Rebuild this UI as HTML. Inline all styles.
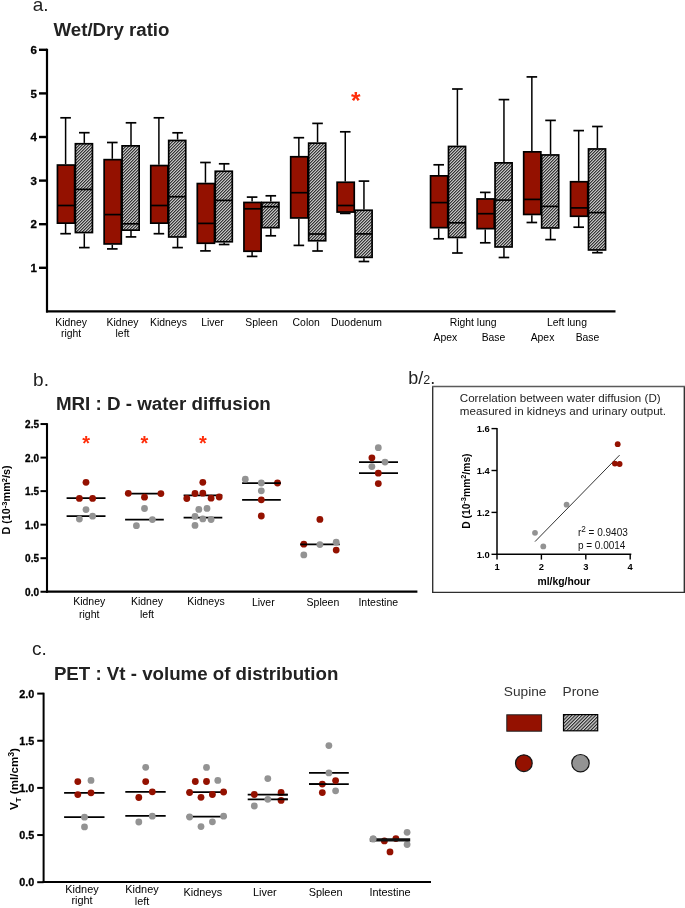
<!DOCTYPE html>
<html><head><meta charset="utf-8"><title>Figure</title>
<style>
html,body{margin:0;padding:0;background:#fff;}
body{width:685px;height:908px;overflow:hidden;}
svg{display:block;will-change:transform;font-family:"Liberation Sans", sans-serif;}
</style></head>
<body>
<svg width="685" height="908" viewBox="0 0 685 908">
<defs>
<pattern id="hatch" patternUnits="userSpaceOnUse" x="0" y="0" width="3" height="3"><rect x="0" y="0" width="1" height="1" fill="#c4c4c4"/><rect x="1" y="0" width="1" height="1" fill="#363636"/><rect x="2" y="0" width="1" height="1" fill="#808080"/><rect x="0" y="1" width="1" height="1" fill="#363636"/><rect x="1" y="1" width="1" height="1" fill="#808080"/><rect x="2" y="1" width="1" height="1" fill="#c4c4c4"/><rect x="0" y="2" width="1" height="1" fill="#808080"/><rect x="1" y="2" width="1" height="1" fill="#c4c4c4"/><rect x="2" y="2" width="1" height="1" fill="#363636"/></pattern>
<pattern id="hatch2" patternUnits="userSpaceOnUse" width="2.4" height="8" patternTransform="rotate(45)">
<rect x="0" y="0" width="2.4" height="8" fill="#d4d4d4"/>
<rect x="0" y="0" width="1.1" height="8" fill="#202020"/>
</pattern>
</defs>
<rect x="0" y="0" width="685" height="908" fill="#fff"/>
<text x="32.7" y="10.6" font-size="19" text-anchor="start" fill="#222" >a.</text>
<text x="53.5" y="35.8" font-size="18.7" font-weight="bold" text-anchor="start" fill="#222" >Wet/Dry ratio</text>
<line x1="47.0" y1="48.7" x2="47.0" y2="312.4" stroke="#000" stroke-width="2.2"/>
<line x1="46.0" y1="311.4" x2="615.5" y2="311.4" stroke="#000" stroke-width="2.2"/>
<line x1="39" y1="267.8" x2="47.0" y2="267.8" stroke="#000" stroke-width="2.4"/>
<text x="36.9" y="271.9" font-size="11.5" font-weight="bold" text-anchor="end" fill="#000" stroke="#000" stroke-width="0.3">1</text>
<line x1="39" y1="224.20000000000002" x2="47.0" y2="224.20000000000002" stroke="#000" stroke-width="2.4"/>
<text x="36.9" y="228.3" font-size="11.5" font-weight="bold" text-anchor="end" fill="#000" stroke="#000" stroke-width="0.3">2</text>
<line x1="39" y1="180.6" x2="47.0" y2="180.6" stroke="#000" stroke-width="2.4"/>
<text x="36.9" y="184.7" font-size="11.5" font-weight="bold" text-anchor="end" fill="#000" stroke="#000" stroke-width="0.3">3</text>
<line x1="39" y1="137.0" x2="47.0" y2="137.0" stroke="#000" stroke-width="2.4"/>
<text x="36.9" y="141.1" font-size="11.5" font-weight="bold" text-anchor="end" fill="#000" stroke="#000" stroke-width="0.3">4</text>
<line x1="39" y1="93.4" x2="47.0" y2="93.4" stroke="#000" stroke-width="2.4"/>
<text x="36.9" y="97.50000000000001" font-size="11.5" font-weight="bold" text-anchor="end" fill="#000" stroke="#000" stroke-width="0.3">5</text>
<line x1="39" y1="49.800000000000004" x2="47.0" y2="49.800000000000004" stroke="#000" stroke-width="2.4"/>
<text x="36.9" y="53.900000000000006" font-size="11.5" font-weight="bold" text-anchor="end" fill="#000" stroke="#000" stroke-width="0.3">6</text>
<line x1="65.6" y1="117.8" x2="65.6" y2="164.2" stroke="#000" stroke-width="1.5"/>
<line x1="65.6" y1="224.0" x2="65.6" y2="233.7" stroke="#000" stroke-width="1.5"/>
<line x1="60.3" y1="117.8" x2="70.89999999999999" y2="117.8" stroke="#000" stroke-width="1.7"/>
<line x1="60.3" y1="233.7" x2="70.89999999999999" y2="233.7" stroke="#000" stroke-width="1.7"/>
<rect x="57.45" y="165.05" width="17.15" height="58.10" fill="#941100" stroke="#000" stroke-width="1.7"/>
<line x1="57.45" y1="205.5" x2="74.60000000000001" y2="205.5" stroke="#000" stroke-width="1.7"/>
<line x1="84.3" y1="132.7" x2="84.3" y2="142.89999999999998" stroke="#000" stroke-width="1.5"/>
<line x1="84.3" y1="233.4" x2="84.3" y2="247.6" stroke="#000" stroke-width="1.5"/>
<line x1="79.0" y1="132.7" x2="89.6" y2="132.7" stroke="#000" stroke-width="1.7"/>
<line x1="79.0" y1="247.6" x2="89.6" y2="247.6" stroke="#000" stroke-width="1.7"/>
<rect x="75.40" y="143.75" width="17.05" height="88.80" fill="url(#hatch)" stroke="#000" stroke-width="1.7"/>
<line x1="75.39999999999999" y1="189.4" x2="92.45" y2="189.4" stroke="#000" stroke-width="1.7"/>
<line x1="112.3" y1="142.5" x2="112.3" y2="158.79999999999998" stroke="#000" stroke-width="1.5"/>
<line x1="112.3" y1="244.79999999999998" x2="112.3" y2="248.9" stroke="#000" stroke-width="1.5"/>
<line x1="107.0" y1="142.5" x2="117.6" y2="142.5" stroke="#000" stroke-width="1.7"/>
<line x1="107.0" y1="248.9" x2="117.6" y2="248.9" stroke="#000" stroke-width="1.7"/>
<rect x="104.15" y="159.65" width="17.15" height="84.30" fill="#941100" stroke="#000" stroke-width="1.7"/>
<line x1="104.15" y1="214.6" x2="121.30000000000001" y2="214.6" stroke="#000" stroke-width="1.7"/>
<line x1="131.0" y1="122.8" x2="131.0" y2="145.0" stroke="#000" stroke-width="1.5"/>
<line x1="131.0" y1="231.0" x2="131.0" y2="236.9" stroke="#000" stroke-width="1.5"/>
<line x1="125.7" y1="122.8" x2="136.3" y2="122.8" stroke="#000" stroke-width="1.7"/>
<line x1="125.7" y1="236.9" x2="136.3" y2="236.9" stroke="#000" stroke-width="1.7"/>
<rect x="122.10" y="145.85" width="17.05" height="84.30" fill="url(#hatch)" stroke="#000" stroke-width="1.7"/>
<line x1="122.1" y1="223.8" x2="139.15" y2="223.8" stroke="#000" stroke-width="1.7"/>
<line x1="158.9" y1="117.8" x2="158.9" y2="164.7" stroke="#000" stroke-width="1.5"/>
<line x1="158.9" y1="224.0" x2="158.9" y2="233.7" stroke="#000" stroke-width="1.5"/>
<line x1="153.6" y1="117.8" x2="164.20000000000002" y2="117.8" stroke="#000" stroke-width="1.7"/>
<line x1="153.6" y1="233.7" x2="164.20000000000002" y2="233.7" stroke="#000" stroke-width="1.7"/>
<rect x="150.75" y="165.55" width="17.15" height="57.60" fill="#941100" stroke="#000" stroke-width="1.7"/>
<line x1="150.75" y1="205.5" x2="167.9" y2="205.5" stroke="#000" stroke-width="1.7"/>
<line x1="177.60000000000002" y1="132.8" x2="177.60000000000002" y2="139.6" stroke="#000" stroke-width="1.5"/>
<line x1="177.60000000000002" y1="237.79999999999998" x2="177.60000000000002" y2="247.6" stroke="#000" stroke-width="1.5"/>
<line x1="172.3" y1="132.8" x2="182.90000000000003" y2="132.8" stroke="#000" stroke-width="1.7"/>
<line x1="172.3" y1="247.6" x2="182.90000000000003" y2="247.6" stroke="#000" stroke-width="1.7"/>
<rect x="168.70" y="140.45" width="17.05" height="96.50" fill="url(#hatch)" stroke="#000" stroke-width="1.7"/>
<line x1="168.70000000000002" y1="196.7" x2="185.75000000000003" y2="196.7" stroke="#000" stroke-width="1.7"/>
<line x1="205.45" y1="162.5" x2="205.45" y2="182.7" stroke="#000" stroke-width="1.5"/>
<line x1="205.45" y1="244.1" x2="205.45" y2="250.9" stroke="#000" stroke-width="1.5"/>
<line x1="200.14999999999998" y1="162.5" x2="210.75" y2="162.5" stroke="#000" stroke-width="1.7"/>
<line x1="200.14999999999998" y1="250.9" x2="210.75" y2="250.9" stroke="#000" stroke-width="1.7"/>
<rect x="197.30" y="183.55" width="17.15" height="59.70" fill="#941100" stroke="#000" stroke-width="1.7"/>
<line x1="197.29999999999998" y1="223.4" x2="214.45" y2="223.4" stroke="#000" stroke-width="1.7"/>
<line x1="224.15" y1="163.8" x2="224.15" y2="170.39999999999998" stroke="#000" stroke-width="1.5"/>
<line x1="224.15" y1="242.6" x2="224.15" y2="244.5" stroke="#000" stroke-width="1.5"/>
<line x1="218.85" y1="163.8" x2="229.45000000000002" y2="163.8" stroke="#000" stroke-width="1.7"/>
<line x1="218.85" y1="244.5" x2="229.45000000000002" y2="244.5" stroke="#000" stroke-width="1.7"/>
<rect x="215.25" y="171.25" width="17.05" height="70.50" fill="url(#hatch)" stroke="#000" stroke-width="1.7"/>
<line x1="215.25" y1="200.4" x2="232.3" y2="200.4" stroke="#000" stroke-width="1.7"/>
<line x1="252.1" y1="197.1" x2="252.1" y2="201.6" stroke="#000" stroke-width="1.5"/>
<line x1="252.1" y1="252.1" x2="252.1" y2="256.4" stroke="#000" stroke-width="1.5"/>
<line x1="246.79999999999998" y1="197.1" x2="257.4" y2="197.1" stroke="#000" stroke-width="1.7"/>
<line x1="246.79999999999998" y1="256.4" x2="257.4" y2="256.4" stroke="#000" stroke-width="1.7"/>
<rect x="243.95" y="202.45" width="17.15" height="48.80" fill="#941100" stroke="#000" stroke-width="1.7"/>
<line x1="243.95" y1="208.8" x2="261.09999999999997" y2="208.8" stroke="#000" stroke-width="1.7"/>
<line x1="270.8" y1="195.8" x2="270.8" y2="201.6" stroke="#000" stroke-width="1.5"/>
<line x1="270.8" y1="228.5" x2="270.8" y2="235.8" stroke="#000" stroke-width="1.5"/>
<line x1="265.5" y1="195.8" x2="276.1" y2="195.8" stroke="#000" stroke-width="1.7"/>
<line x1="265.5" y1="235.8" x2="276.1" y2="235.8" stroke="#000" stroke-width="1.7"/>
<rect x="261.90" y="202.45" width="17.05" height="25.20" fill="url(#hatch)" stroke="#000" stroke-width="1.7"/>
<line x1="261.90000000000003" y1="206.7" x2="278.95" y2="206.7" stroke="#000" stroke-width="1.7"/>
<line x1="298.85" y1="137.7" x2="298.85" y2="155.89999999999998" stroke="#000" stroke-width="1.5"/>
<line x1="298.85" y1="218.79999999999998" x2="298.85" y2="245.4" stroke="#000" stroke-width="1.5"/>
<line x1="293.55" y1="137.7" x2="304.15000000000003" y2="137.7" stroke="#000" stroke-width="1.7"/>
<line x1="293.55" y1="245.4" x2="304.15000000000003" y2="245.4" stroke="#000" stroke-width="1.7"/>
<rect x="290.70" y="156.75" width="17.15" height="61.20" fill="#941100" stroke="#000" stroke-width="1.7"/>
<line x1="290.70000000000005" y1="192.7" x2="307.84999999999997" y2="192.7" stroke="#000" stroke-width="1.7"/>
<line x1="317.55" y1="123.4" x2="317.55" y2="142.29999999999998" stroke="#000" stroke-width="1.5"/>
<line x1="317.55" y1="241.6" x2="317.55" y2="251.0" stroke="#000" stroke-width="1.5"/>
<line x1="312.25" y1="123.4" x2="322.85" y2="123.4" stroke="#000" stroke-width="1.7"/>
<line x1="312.25" y1="251.0" x2="322.85" y2="251.0" stroke="#000" stroke-width="1.7"/>
<rect x="308.65" y="143.15" width="17.05" height="97.60" fill="url(#hatch)" stroke="#000" stroke-width="1.7"/>
<line x1="308.65000000000003" y1="234.0" x2="325.7" y2="234.0" stroke="#000" stroke-width="1.7"/>
<line x1="345.25" y1="131.8" x2="345.25" y2="181.39999999999998" stroke="#000" stroke-width="1.5"/>
<line x1="345.25" y1="212.9" x2="345.25" y2="213.4" stroke="#000" stroke-width="1.5"/>
<line x1="339.95" y1="131.8" x2="350.55" y2="131.8" stroke="#000" stroke-width="1.7"/>
<line x1="339.95" y1="213.4" x2="350.55" y2="213.4" stroke="#000" stroke-width="1.7"/>
<rect x="337.10" y="182.25" width="17.15" height="29.80" fill="#941100" stroke="#000" stroke-width="1.7"/>
<line x1="337.1" y1="205.5" x2="354.24999999999994" y2="205.5" stroke="#000" stroke-width="1.7"/>
<line x1="363.95" y1="181.1" x2="363.95" y2="209.39999999999998" stroke="#000" stroke-width="1.5"/>
<line x1="363.95" y1="258.20000000000005" x2="363.95" y2="261.5" stroke="#000" stroke-width="1.5"/>
<line x1="358.65" y1="181.1" x2="369.25" y2="181.1" stroke="#000" stroke-width="1.7"/>
<line x1="358.65" y1="261.5" x2="369.25" y2="261.5" stroke="#000" stroke-width="1.7"/>
<rect x="355.05" y="210.25" width="17.05" height="47.10" fill="url(#hatch)" stroke="#000" stroke-width="1.7"/>
<line x1="355.05" y1="233.9" x2="372.09999999999997" y2="233.9" stroke="#000" stroke-width="1.7"/>
<line x1="438.70000000000005" y1="164.8" x2="438.70000000000005" y2="175.0" stroke="#000" stroke-width="1.5"/>
<line x1="438.70000000000005" y1="228.5" x2="438.70000000000005" y2="238.8" stroke="#000" stroke-width="1.5"/>
<line x1="433.40000000000003" y1="164.8" x2="444.00000000000006" y2="164.8" stroke="#000" stroke-width="1.7"/>
<line x1="433.40000000000003" y1="238.8" x2="444.00000000000006" y2="238.8" stroke="#000" stroke-width="1.7"/>
<rect x="430.55" y="175.85" width="17.15" height="51.80" fill="#941100" stroke="#000" stroke-width="1.7"/>
<line x1="430.55000000000007" y1="202.6" x2="447.7" y2="202.6" stroke="#000" stroke-width="1.7"/>
<line x1="457.40000000000003" y1="89.0" x2="457.40000000000003" y2="145.6" stroke="#000" stroke-width="1.5"/>
<line x1="457.40000000000003" y1="238.29999999999998" x2="457.40000000000003" y2="253.0" stroke="#000" stroke-width="1.5"/>
<line x1="452.1" y1="89.0" x2="462.70000000000005" y2="89.0" stroke="#000" stroke-width="1.7"/>
<line x1="452.1" y1="253.0" x2="462.70000000000005" y2="253.0" stroke="#000" stroke-width="1.7"/>
<rect x="448.50" y="146.45" width="17.05" height="91.00" fill="url(#hatch)" stroke="#000" stroke-width="1.7"/>
<line x1="448.50000000000006" y1="222.8" x2="465.55" y2="222.8" stroke="#000" stroke-width="1.7"/>
<line x1="485.25" y1="192.4" x2="485.25" y2="198.1" stroke="#000" stroke-width="1.5"/>
<line x1="485.25" y1="229.5" x2="485.25" y2="242.8" stroke="#000" stroke-width="1.5"/>
<line x1="479.95" y1="192.4" x2="490.55" y2="192.4" stroke="#000" stroke-width="1.7"/>
<line x1="479.95" y1="242.8" x2="490.55" y2="242.8" stroke="#000" stroke-width="1.7"/>
<rect x="477.10" y="198.95" width="17.15" height="29.70" fill="#941100" stroke="#000" stroke-width="1.7"/>
<line x1="477.1" y1="213.7" x2="494.24999999999994" y2="213.7" stroke="#000" stroke-width="1.7"/>
<line x1="503.95" y1="99.6" x2="503.95" y2="162.0" stroke="#000" stroke-width="1.5"/>
<line x1="503.95" y1="247.79999999999998" x2="503.95" y2="257.5" stroke="#000" stroke-width="1.5"/>
<line x1="498.65" y1="99.6" x2="509.25" y2="99.6" stroke="#000" stroke-width="1.7"/>
<line x1="498.65" y1="257.5" x2="509.25" y2="257.5" stroke="#000" stroke-width="1.7"/>
<rect x="495.05" y="162.85" width="17.05" height="84.10" fill="url(#hatch)" stroke="#000" stroke-width="1.7"/>
<line x1="495.05" y1="200.1" x2="512.0999999999999" y2="200.1" stroke="#000" stroke-width="1.7"/>
<line x1="531.85" y1="76.9" x2="531.85" y2="151.0" stroke="#000" stroke-width="1.5"/>
<line x1="531.85" y1="215.29999999999998" x2="531.85" y2="222.5" stroke="#000" stroke-width="1.5"/>
<line x1="526.5500000000001" y1="76.9" x2="537.15" y2="76.9" stroke="#000" stroke-width="1.7"/>
<line x1="526.5500000000001" y1="222.5" x2="537.15" y2="222.5" stroke="#000" stroke-width="1.7"/>
<rect x="523.70" y="151.85" width="17.15" height="62.60" fill="#941100" stroke="#000" stroke-width="1.7"/>
<line x1="523.7" y1="199.4" x2="540.85" y2="199.4" stroke="#000" stroke-width="1.7"/>
<line x1="550.55" y1="120.4" x2="550.55" y2="154.1" stroke="#000" stroke-width="1.5"/>
<line x1="550.55" y1="228.79999999999998" x2="550.55" y2="239.6" stroke="#000" stroke-width="1.5"/>
<line x1="545.25" y1="120.4" x2="555.8499999999999" y2="120.4" stroke="#000" stroke-width="1.7"/>
<line x1="545.25" y1="239.6" x2="555.8499999999999" y2="239.6" stroke="#000" stroke-width="1.7"/>
<rect x="541.65" y="154.95" width="17.05" height="73.00" fill="url(#hatch)" stroke="#000" stroke-width="1.7"/>
<line x1="541.65" y1="206.4" x2="558.6999999999999" y2="206.4" stroke="#000" stroke-width="1.7"/>
<line x1="578.7" y1="130.6" x2="578.7" y2="180.89999999999998" stroke="#000" stroke-width="1.5"/>
<line x1="578.7" y1="217.1" x2="578.7" y2="227.2" stroke="#000" stroke-width="1.5"/>
<line x1="573.4000000000001" y1="130.6" x2="584.0" y2="130.6" stroke="#000" stroke-width="1.7"/>
<line x1="573.4000000000001" y1="227.2" x2="584.0" y2="227.2" stroke="#000" stroke-width="1.7"/>
<rect x="570.55" y="181.75" width="17.15" height="34.50" fill="#941100" stroke="#000" stroke-width="1.7"/>
<line x1="570.5500000000001" y1="207.9" x2="587.7" y2="207.9" stroke="#000" stroke-width="1.7"/>
<line x1="597.4" y1="126.5" x2="597.4" y2="148.1" stroke="#000" stroke-width="1.5"/>
<line x1="597.4" y1="250.79999999999998" x2="597.4" y2="252.7" stroke="#000" stroke-width="1.5"/>
<line x1="592.1" y1="126.5" x2="602.6999999999999" y2="126.5" stroke="#000" stroke-width="1.7"/>
<line x1="592.1" y1="252.7" x2="602.6999999999999" y2="252.7" stroke="#000" stroke-width="1.7"/>
<rect x="588.50" y="148.95" width="17.05" height="101.00" fill="url(#hatch)" stroke="#000" stroke-width="1.7"/>
<line x1="588.5" y1="212.6" x2="605.55" y2="212.6" stroke="#000" stroke-width="1.7"/>
<text x="355.7" y="109" font-size="24.5" font-weight="bold" text-anchor="middle" fill="#ff2d0a" >*</text>
<text x="71.1" y="325.9" font-size="10.4" text-anchor="middle" fill="#000" >Kidney</text>
<text x="71.1" y="337.0" font-size="10.4" text-anchor="middle" fill="#000" >right</text>
<text x="122.5" y="325.9" font-size="10.4" text-anchor="middle" fill="#000" >Kidney</text>
<text x="122.5" y="337.0" font-size="10.4" text-anchor="middle" fill="#000" >left</text>
<text x="168.5" y="326.3" font-size="10.4" text-anchor="middle" fill="#000" >Kidneys</text>
<text x="212.5" y="326.3" font-size="10.4" text-anchor="middle" fill="#000" >Liver</text>
<text x="261.5" y="326.3" font-size="10.4" text-anchor="middle" fill="#000" >Spleen</text>
<text x="306.2" y="326.3" font-size="10.4" text-anchor="middle" fill="#000" >Colon</text>
<text x="356.5" y="325.8" font-size="10.4" text-anchor="middle" fill="#000" >Duodenum</text>
<text x="473.1" y="326.0" font-size="10.4" text-anchor="middle" fill="#000" >Right lung</text>
<text x="567.0" y="326.0" font-size="10.4" text-anchor="middle" fill="#000" >Left lung</text>
<text x="445.3" y="341.2" font-size="10.4" text-anchor="middle" fill="#000" >Apex</text>
<text x="493.5" y="341.2" font-size="10.4" text-anchor="middle" fill="#000" >Base</text>
<text x="542.5" y="341.2" font-size="10.4" text-anchor="middle" fill="#000" >Apex</text>
<text x="587.5" y="341.2" font-size="10.4" text-anchor="middle" fill="#000" >Base</text>
<text x="33.1" y="386.1" font-size="19" text-anchor="start" fill="#222" >b.</text>
<text x="55.9" y="410.2" font-size="18.8" font-weight="bold" text-anchor="start" fill="#222" >MRI : D - water diffusion</text>
<line x1="47.0" y1="423.15000000000003" x2="47.0" y2="592.8" stroke="#000" stroke-width="2.1"/>
<line x1="46.0" y1="591.7" x2="417.4" y2="591.7" stroke="#000" stroke-width="2.3"/>
<line x1="40.5" y1="591.75" x2="47.0" y2="591.75" stroke="#000" stroke-width="2.0"/>
<text x="39.0" y="595.85" font-size="10.0" font-weight="bold" text-anchor="end" fill="#000" stroke="#000" stroke-width="0.3">0.0</text>
<line x1="40.5" y1="558.21" x2="47.0" y2="558.21" stroke="#000" stroke-width="2.0"/>
<text x="39.0" y="562.3100000000001" font-size="10.0" font-weight="bold" text-anchor="end" fill="#000" stroke="#000" stroke-width="0.3">0.5</text>
<line x1="40.5" y1="524.67" x2="47.0" y2="524.67" stroke="#000" stroke-width="2.0"/>
<text x="39.0" y="528.77" font-size="10.0" font-weight="bold" text-anchor="end" fill="#000" stroke="#000" stroke-width="0.3">1.0</text>
<line x1="40.5" y1="491.13" x2="47.0" y2="491.13" stroke="#000" stroke-width="2.0"/>
<text x="39.0" y="495.23" font-size="10.0" font-weight="bold" text-anchor="end" fill="#000" stroke="#000" stroke-width="0.3">1.5</text>
<line x1="40.5" y1="457.59000000000003" x2="47.0" y2="457.59000000000003" stroke="#000" stroke-width="2.0"/>
<text x="39.0" y="461.69000000000005" font-size="10.0" font-weight="bold" text-anchor="end" fill="#000" stroke="#000" stroke-width="0.3">2.0</text>
<line x1="40.5" y1="424.05" x2="47.0" y2="424.05" stroke="#000" stroke-width="2.0"/>
<text x="39.0" y="428.15000000000003" font-size="10.0" font-weight="bold" text-anchor="end" fill="#000" stroke="#000" stroke-width="0.3">2.5</text>
<text transform="translate(10.0,500) rotate(-90)" font-size="10.8" font-weight="bold" text-anchor="middle" fill="#000">D (10<tspan dy="-3.5" font-size="7.5">-3</tspan><tspan dy="3.5">mm</tspan><tspan dy="-3.5" font-size="7.5">2</tspan><tspan dy="3.5">/s)</tspan></text>
<line x1="66.6" y1="498.2" x2="105.5" y2="498.2" stroke="#000" stroke-width="1.75"/>
<line x1="66.6" y1="516.2" x2="105.5" y2="516.2" stroke="#000" stroke-width="1.75"/>
<circle cx="86" cy="509.6" r="3.4" fill="#939393"/>
<circle cx="79.4" cy="519.1" r="3.4" fill="#939393"/>
<circle cx="92.6" cy="516.2" r="3.4" fill="#939393"/>
<circle cx="86" cy="482.3" r="3.4" fill="#941100"/>
<circle cx="79.4" cy="498.4" r="3.4" fill="#941100"/>
<circle cx="92.6" cy="498.4" r="3.4" fill="#941100"/>
<line x1="125.1" y1="493.6" x2="163.8" y2="493.6" stroke="#000" stroke-width="1.75"/>
<line x1="125.1" y1="519.6" x2="163.8" y2="519.6" stroke="#000" stroke-width="1.75"/>
<circle cx="144.5" cy="508.5" r="3.4" fill="#939393"/>
<circle cx="136.4" cy="525.7" r="3.4" fill="#939393"/>
<circle cx="152.4" cy="519.6" r="3.4" fill="#939393"/>
<circle cx="128.3" cy="493.3" r="3.4" fill="#941100"/>
<circle cx="144.5" cy="497.2" r="3.4" fill="#941100"/>
<circle cx="160.9" cy="493.6" r="3.4" fill="#941100"/>
<line x1="183.6" y1="495.4" x2="222.3" y2="495.4" stroke="#000" stroke-width="1.75"/>
<line x1="183.6" y1="517.7" x2="222.3" y2="517.7" stroke="#000" stroke-width="1.75"/>
<circle cx="198.8" cy="509.4" r="3.4" fill="#939393"/>
<circle cx="207" cy="508.4" r="3.4" fill="#939393"/>
<circle cx="195" cy="516.4" r="3.4" fill="#939393"/>
<circle cx="202.8" cy="518.9" r="3.4" fill="#939393"/>
<circle cx="211.1" cy="519.5" r="3.4" fill="#939393"/>
<circle cx="195" cy="525.4" r="3.4" fill="#939393"/>
<circle cx="202.8" cy="482.3" r="3.4" fill="#941100"/>
<circle cx="195" cy="493.5" r="3.4" fill="#941100"/>
<circle cx="202.8" cy="493.2" r="3.4" fill="#941100"/>
<circle cx="186.8" cy="498.5" r="3.4" fill="#941100"/>
<circle cx="211.1" cy="498.2" r="3.4" fill="#941100"/>
<circle cx="219.2" cy="497" r="3.4" fill="#941100"/>
<line x1="242.1" y1="483.1" x2="280.8" y2="483.1" stroke="#000" stroke-width="1.75"/>
<line x1="242.1" y1="499.9" x2="280.8" y2="499.9" stroke="#000" stroke-width="1.75"/>
<circle cx="245.3" cy="479.2" r="3.4" fill="#939393"/>
<circle cx="261.3" cy="483" r="3.4" fill="#939393"/>
<circle cx="261.3" cy="490.8" r="3.4" fill="#939393"/>
<circle cx="277.5" cy="483" r="3.4" fill="#941100"/>
<circle cx="261.3" cy="499.8" r="3.4" fill="#941100"/>
<circle cx="261.3" cy="516" r="3.4" fill="#941100"/>
<line x1="300.3" y1="544.4" x2="339.7" y2="544.4" stroke="#000" stroke-width="1.75"/>
<circle cx="319.9" cy="544.6" r="3.4" fill="#939393"/>
<circle cx="336.2" cy="542.2" r="3.4" fill="#939393"/>
<circle cx="303.8" cy="554.9" r="3.4" fill="#939393"/>
<circle cx="319.9" cy="519.4" r="3.4" fill="#941100"/>
<circle cx="303.8" cy="544.2" r="3.4" fill="#941100"/>
<circle cx="336.2" cy="550.1" r="3.4" fill="#941100"/>
<line x1="359" y1="462.2" x2="398" y2="462.2" stroke="#000" stroke-width="1.75"/>
<line x1="359" y1="473.2" x2="398" y2="473.2" stroke="#000" stroke-width="1.75"/>
<circle cx="378.3" cy="447.7" r="3.4" fill="#939393"/>
<circle cx="385" cy="462.1" r="3.4" fill="#939393"/>
<circle cx="371.9" cy="466.6" r="3.4" fill="#939393"/>
<circle cx="371.9" cy="457.8" r="3.4" fill="#941100"/>
<circle cx="378.3" cy="473.2" r="3.4" fill="#941100"/>
<circle cx="378.3" cy="483.6" r="3.4" fill="#941100"/>
<line x1="274.0" y1="483.1" x2="280.8" y2="483.1" stroke="#000" stroke-width="1.75"/>
<line x1="300.3" y1="544.4" x2="307.2" y2="544.4" stroke="#000" stroke-width="1.75"/>
<text x="86.1" y="450.0" font-size="20" font-weight="bold" text-anchor="middle" fill="#ff2d0a" >*</text>
<text x="144.5" y="450.0" font-size="20" font-weight="bold" text-anchor="middle" fill="#ff2d0a" >*</text>
<text x="203" y="450.0" font-size="20" font-weight="bold" text-anchor="middle" fill="#ff2d0a" >*</text>
<text x="89.2" y="605" font-size="10.5" text-anchor="middle" fill="#000" >Kidney</text>
<text x="89.2" y="617.5" font-size="10.5" text-anchor="middle" fill="#000" >right</text>
<text x="147" y="605" font-size="10.5" text-anchor="middle" fill="#000" >Kidney</text>
<text x="147" y="617.5" font-size="10.5" text-anchor="middle" fill="#000" >left</text>
<text x="206" y="604.8" font-size="10.5" text-anchor="middle" fill="#000" >Kidneys</text>
<text x="263.3" y="605.5" font-size="10.5" text-anchor="middle" fill="#000" >Liver</text>
<text x="322.9" y="605.5" font-size="10.5" text-anchor="middle" fill="#000" >Spleen</text>
<text x="378.3" y="605.5" font-size="10.5" text-anchor="middle" fill="#000" >Intestine</text>
<text x="408.3" y="384" font-size="18" fill="#222">b/<tspan font-size="12.5">2</tspan>.</text>
<path d="M432.7 386.5 V592.3 H684.3 V386.5" fill="none" stroke="#2e2e2e" stroke-width="1.35"/>
<line x1="432.05" y1="386.5" x2="684.95" y2="386.5" stroke="#5a5a5a" stroke-width="1.3"/>
<text x="459.8" y="401.5" font-size="11.6" text-anchor="start" fill="#222" >Correlation between water diffusion (D)</text>
<text x="459.8" y="414.6" font-size="11.6" text-anchor="start" fill="#222" >measured in kidneys and urinary output.</text>
<line x1="497" y1="427.8999999999999" x2="497" y2="555.1" stroke="#000" stroke-width="1.5"/>
<line x1="496.3" y1="554.3" x2="631.3" y2="554.3" stroke="#000" stroke-width="1.5"/>
<line x1="491.5" y1="554.3" x2="497" y2="554.3" stroke="#000" stroke-width="1.4"/>
<text x="489.8" y="557.6999999999999" font-size="9.4" font-weight="bold" text-anchor="end" fill="#000" >1.0</text>
<line x1="491.5" y1="512.4" x2="497" y2="512.4" stroke="#000" stroke-width="1.4"/>
<text x="489.8" y="515.8" font-size="9.4" font-weight="bold" text-anchor="end" fill="#000" >1.2</text>
<line x1="491.5" y1="470.5" x2="497" y2="470.5" stroke="#000" stroke-width="1.4"/>
<text x="489.8" y="473.9" font-size="9.4" font-weight="bold" text-anchor="end" fill="#000" >1.4</text>
<line x1="491.5" y1="428.5999999999999" x2="497" y2="428.5999999999999" stroke="#000" stroke-width="1.4"/>
<text x="489.8" y="431.9999999999999" font-size="9.4" font-weight="bold" text-anchor="end" fill="#000" >1.6</text>
<line x1="497.0" y1="554.3" x2="497.0" y2="559.6" stroke="#000" stroke-width="1.4"/>
<text x="497.0" y="570.0" font-size="9.4" font-weight="bold" text-anchor="middle" fill="#000" >1</text>
<line x1="541.4" y1="554.3" x2="541.4" y2="559.6" stroke="#000" stroke-width="1.4"/>
<text x="541.4" y="570.0" font-size="9.4" font-weight="bold" text-anchor="middle" fill="#000" >2</text>
<line x1="585.8" y1="554.3" x2="585.8" y2="559.6" stroke="#000" stroke-width="1.4"/>
<text x="585.8" y="570.0" font-size="9.4" font-weight="bold" text-anchor="middle" fill="#000" >3</text>
<line x1="630.2" y1="554.3" x2="630.2" y2="559.6" stroke="#000" stroke-width="1.4"/>
<text x="630.2" y="570.0" font-size="9.4" font-weight="bold" text-anchor="middle" fill="#000" >4</text>
<text x="537.5" y="584.6" font-size="10.35" font-weight="bold" text-anchor="start" fill="#000" >ml/kg/hour</text>
<text transform="translate(469.8,491.1) rotate(-90)" font-size="10.25" font-weight="bold" text-anchor="middle" fill="#000">D (10<tspan dy="-3.4" font-size="7.5">-3</tspan><tspan dy="3.4">mm</tspan><tspan dy="-3.4" font-size="7.5">2</tspan><tspan dy="3.4">/ms)</tspan></text>
<line x1="535" y1="541.6" x2="619.6" y2="455.1" stroke="#333" stroke-width="1.0"/>
<circle cx="535" cy="532.8" r="2.9" fill="#939393"/>
<circle cx="543.3" cy="546.4" r="2.9" fill="#939393"/>
<circle cx="566.6" cy="504.7" r="2.9" fill="#939393"/>
<circle cx="617.7" cy="444.2" r="2.9" fill="#941100"/>
<circle cx="614.9" cy="463.6" r="2.9" fill="#941100"/>
<circle cx="619.6" cy="464" r="2.9" fill="#941100"/>
<text x="577.9" y="535.8" font-size="10" fill="#111">r<tspan dy="-4.2" font-size="8.2">2</tspan><tspan dy="4.2"> = 0.9403</tspan></text>
<text x="577.9" y="548.6" font-size="10" text-anchor="start" fill="#111" >p = 0.0014</text>
<text x="32.1" y="655.1" font-size="19" text-anchor="start" fill="#222" >c.</text>
<text x="53.9" y="679.7" font-size="18.7" font-weight="bold" text-anchor="start" fill="#222" >PET : Vt - volume of distribution</text>
<line x1="43.6" y1="692.7" x2="43.6" y2="883" stroke="#000" stroke-width="2"/>
<line x1="42.6" y1="882" x2="431" y2="882" stroke="#000" stroke-width="2"/>
<line x1="37.2" y1="882.2" x2="43.6" y2="882.2" stroke="#000" stroke-width="2.0"/>
<text x="34.3" y="886.2" font-size="10.8" font-weight="bold" text-anchor="end" fill="#000" stroke="#000" stroke-width="0.3">0.0</text>
<line x1="37.2" y1="835.0500000000001" x2="43.6" y2="835.0500000000001" stroke="#000" stroke-width="2.0"/>
<text x="34.3" y="839.0500000000001" font-size="10.8" font-weight="bold" text-anchor="end" fill="#000" stroke="#000" stroke-width="0.3">0.5</text>
<line x1="37.2" y1="787.9000000000001" x2="43.6" y2="787.9000000000001" stroke="#000" stroke-width="2.0"/>
<text x="34.3" y="791.9000000000001" font-size="10.8" font-weight="bold" text-anchor="end" fill="#000" stroke="#000" stroke-width="0.3">1.0</text>
<line x1="37.2" y1="740.75" x2="43.6" y2="740.75" stroke="#000" stroke-width="2.0"/>
<text x="34.3" y="744.75" font-size="10.8" font-weight="bold" text-anchor="end" fill="#000" stroke="#000" stroke-width="0.3">1.5</text>
<line x1="37.2" y1="693.6" x2="43.6" y2="693.6" stroke="#000" stroke-width="2.0"/>
<text x="34.3" y="697.6" font-size="10.8" font-weight="bold" text-anchor="end" fill="#000" stroke="#000" stroke-width="0.3">2.0</text>
<text transform="translate(18.4,779) rotate(-90)" font-size="11.6" font-weight="bold" text-anchor="middle" fill="#000">V<tspan dy="2.5" font-size="8">T</tspan><tspan dy="-2.5"> (ml/cm</tspan><tspan dy="-4.6" font-size="8.8">3</tspan><tspan dy="4.6">)</tspan></text>
<line x1="64.1" y1="792.8" x2="104.5" y2="792.8" stroke="#000" stroke-width="1.75"/>
<line x1="64.1" y1="817.2" x2="104.5" y2="817.2" stroke="#000" stroke-width="1.75"/>
<circle cx="91" cy="780.4" r="3.4" fill="#939393"/>
<circle cx="84.5" cy="817.2" r="3.4" fill="#939393"/>
<circle cx="84.5" cy="826.9" r="3.4" fill="#939393"/>
<circle cx="77.8" cy="781.6" r="3.4" fill="#941100"/>
<circle cx="77.8" cy="794.6" r="3.4" fill="#941100"/>
<circle cx="91" cy="792.8" r="3.4" fill="#941100"/>
<line x1="125.3" y1="791.8" x2="165.7" y2="791.8" stroke="#000" stroke-width="1.75"/>
<line x1="125.3" y1="815.9" x2="165.7" y2="815.9" stroke="#000" stroke-width="1.75"/>
<circle cx="145.7" cy="767.3" r="3.4" fill="#939393"/>
<circle cx="152.3" cy="816.2" r="3.4" fill="#939393"/>
<circle cx="138.8" cy="822" r="3.4" fill="#939393"/>
<circle cx="145.7" cy="781.6" r="3.4" fill="#941100"/>
<circle cx="152.3" cy="791.8" r="3.4" fill="#941100"/>
<circle cx="138.8" cy="797.5" r="3.4" fill="#941100"/>
<line x1="186.6" y1="792.2" x2="226.6" y2="792.2" stroke="#000" stroke-width="1.75"/>
<line x1="186.6" y1="816.7" x2="226.6" y2="816.7" stroke="#000" stroke-width="1.75"/>
<circle cx="206.5" cy="767.4" r="3.4" fill="#939393"/>
<circle cx="217.8" cy="780.4" r="3.4" fill="#939393"/>
<circle cx="189.6" cy="817" r="3.4" fill="#939393"/>
<circle cx="223.6" cy="816.2" r="3.4" fill="#939393"/>
<circle cx="212.4" cy="821.8" r="3.4" fill="#939393"/>
<circle cx="201" cy="826.6" r="3.4" fill="#939393"/>
<circle cx="195.3" cy="781.5" r="3.4" fill="#941100"/>
<circle cx="206.5" cy="781.5" r="3.4" fill="#941100"/>
<circle cx="189.6" cy="792.5" r="3.4" fill="#941100"/>
<circle cx="223.6" cy="792" r="3.4" fill="#941100"/>
<circle cx="212.4" cy="794.5" r="3.4" fill="#941100"/>
<circle cx="201" cy="797.3" r="3.4" fill="#941100"/>
<line x1="247.7" y1="794.7" x2="287.8" y2="794.7" stroke="#000" stroke-width="1.75"/>
<line x1="247.7" y1="799.3" x2="287.8" y2="799.3" stroke="#000" stroke-width="1.75"/>
<circle cx="267.8" cy="778.6" r="3.4" fill="#939393"/>
<circle cx="267.8" cy="799.3" r="3.4" fill="#939393"/>
<circle cx="254.3" cy="806" r="3.4" fill="#939393"/>
<circle cx="254.3" cy="794.5" r="3.4" fill="#941100"/>
<circle cx="281.1" cy="792.5" r="3.4" fill="#941100"/>
<circle cx="281.1" cy="800.4" r="3.4" fill="#941100"/>
<line x1="277.6" y1="794.7" x2="287.8" y2="794.7" stroke="#000" stroke-width="1.75"/>
<line x1="277.6" y1="799.3" x2="287.8" y2="799.3" stroke="#000" stroke-width="1.75"/>
<line x1="309" y1="772.9" x2="348.8" y2="772.9" stroke="#000" stroke-width="1.75"/>
<line x1="309" y1="784.1" x2="348.8" y2="784.1" stroke="#000" stroke-width="1.75"/>
<circle cx="328.9" cy="745.6" r="3.4" fill="#939393"/>
<circle cx="328.9" cy="772.9" r="3.4" fill="#939393"/>
<circle cx="335.6" cy="790.8" r="3.4" fill="#939393"/>
<circle cx="322.3" cy="784.1" r="3.4" fill="#941100"/>
<circle cx="335.6" cy="780.6" r="3.4" fill="#941100"/>
<circle cx="322.3" cy="792.6" r="3.4" fill="#941100"/>
<line x1="309" y1="784.1" x2="326.5" y2="784.1" stroke="#000" stroke-width="1.75"/>
<circle cx="373.2" cy="838.9" r="3.4" fill="#939393"/>
<circle cx="407.1" cy="832.3" r="3.4" fill="#939393"/>
<circle cx="407.1" cy="844.5" r="3.4" fill="#939393"/>
<circle cx="384.4" cy="840.9" r="3.4" fill="#941100"/>
<circle cx="395.9" cy="838.6" r="3.4" fill="#941100"/>
<circle cx="390" cy="851.9" r="3.4" fill="#941100"/>
<line x1="369.8" y1="839.9" x2="410.2" y2="839.9" stroke="#111" stroke-width="3.4"/>
<circle cx="373.2" cy="838.9" r="3.4" fill="#939393"/>
<text x="82" y="892.7" font-size="10.9" text-anchor="middle" fill="#000" >Kidney</text>
<text x="82" y="904.4" font-size="10.9" text-anchor="middle" fill="#000" >right</text>
<text x="142" y="892.9" font-size="10.9" text-anchor="middle" fill="#000" >Kidney</text>
<text x="142" y="905.2" font-size="10.9" text-anchor="middle" fill="#000" >left</text>
<text x="202.9" y="895.7" font-size="10.9" text-anchor="middle" fill="#000" >Kidneys</text>
<text x="264.8" y="896.3" font-size="10.9" text-anchor="middle" fill="#000" >Liver</text>
<text x="325.6" y="896.3" font-size="10.9" text-anchor="middle" fill="#000" >Spleen</text>
<text x="390" y="896.3" font-size="10.9" text-anchor="middle" fill="#000" >Intestine</text>
<text x="503.8" y="696.3" font-size="13.7" text-anchor="start" fill="#333" >Supine</text>
<text x="562.6" y="696.3" font-size="13.7" text-anchor="start" fill="#333" >Prone</text>
<rect x="506.8" y="714.8" width="34.8" height="16.4" fill="#941100" stroke="#222" stroke-width="1"/>
<rect x="563.5" y="714.6" width="34.2" height="16.2" fill="url(#hatch2)" stroke="#000" stroke-width="1.2"/>
<circle cx="523.85" cy="763.2" r="8.35" fill="#941100" stroke="#151515" stroke-width="1.2"/>
<circle cx="580.5" cy="763.2" r="8.7" fill="#939393" stroke="#151515" stroke-width="1.2"/>
</svg>
</body></html>
